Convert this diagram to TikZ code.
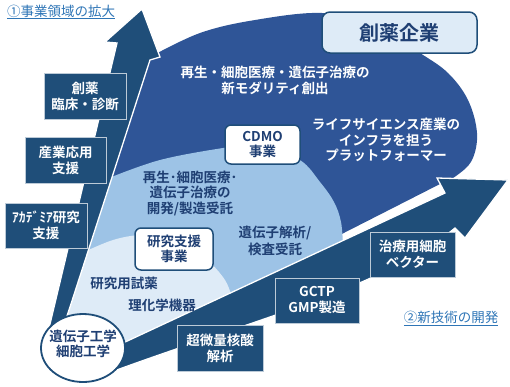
\documentclass[tikz,border=0pt]{standalone}
\usepackage{fontspec}
\usetikzlibrary{shapes.geometric}
\setmainfont{Noto Sans CJK JP}[BoldFont={Noto Sans CJK JP Bold}]
\definecolor{navy}{HTML}{1F4E79}
\definecolor{royal}{HTML}{2F5597}
\definecolor{midblue}{HTML}{9DC3E6}
\definecolor{paleblue}{HTML}{DEEBF7}
\definecolor{txtnavy}{HTML}{1F3F73}
\definecolor{linkblue}{HTML}{2E75B6}
\begin{document}
\begin{tikzpicture}[x=1pt,y=-1pt,
  sidebox/.style={fill=navy, draw=white!70!navy, line width=0.8pt, text=white,
    font=\bfseries\fontsize{13.5}{16}\selectfont, align=center, inner sep=0pt},
  roundbox/.style={fill=white, draw=navy, line width=1.5pt, rounded corners=6pt,
    text=txtnavy, font=\bfseries\fontsize{13.5}{15.5}\selectfont, align=center, inner sep=0pt},
  whitetxt/.style={text=white, font=\bfseries\fontsize{13.5}{16}\selectfont, align=center, inner sep=0pt},
  navytxt/.style={text=txtnavy, font=\bfseries\fontsize{13.5}{15.5}\selectfont, align=center, inner sep=0pt},
  linktxt/.style={text=linkblue, font=\fontsize{13.5}{16}\selectfont, inner sep=0pt},
  arrowband/.style={fill=navy, draw=white, line width=1.3pt, line join=miter}
]
\useasboundingbox (0,0) rectangle (510,386);

% nested regions
\fill[royal] (58,332) -- (146,58) -- plot[smooth,tension=0.6] coordinates
  {(150,57) (200,33) (255,20) (322,13) (375,25) (420,53) (448,73) (468,100) (477,133) (472,160) (456,176) (440,184)}
  -- (110,352) -- cycle;
\fill[midblue] (58,332) -- (109,178) -- plot[smooth,tension=0.6] coordinates
  {(109,178) (160,160) (223,148) (262,144) (300,160) (320,182) (334,202) (341,222) (343,246)}
  -- (110,352) -- cycle;
\fill[paleblue] (58,332) -- (84,252) -- plot[smooth,tension=0.6] coordinates
  {(84,252) (113,240) (140,235) (170,236) (195,246) (212,264) (225,280) (231,294) (233,302)}
  -- (110,352) -- cycle;

% arrows
\filldraw[arrowband] (95,378) .. controls (250,320) and (380,290) .. (455,228)
  -- (465,238) -- (508,180) -- (437,178) -- (445,193) -- (123,343) -- (100,354) -- cycle;
\filldraw[arrowband] (45,345) -- (117,43) -- (105,42) -- (142,9) -- (160,57)
  -- (150,60) -- (70,307) -- (60,337) -- cycle;

% origin ellipse
\node[ellipse, draw=navy, line width=1.8pt, fill=white, minimum width=84pt, minimum height=68pt,
  inner sep=0pt] (origin) at (83,348) {};
\node[navytxt, font=\bfseries\fontsize{13.5}{15}\selectfont] (origintxt) at (83,344) {遺伝子工学\\細胞工学};

% side boxes
\node[sidebox, minimum width=82pt, minimum height=46pt] (b1) at (85,96) {創薬\\臨床・診断};
\node[sidebox, minimum width=81pt, minimum height=46pt] (b2) at (65.5,160) {産業応用\\支援};
\node[sidebox, minimum width=82pt, minimum height=45pt] (b3) at (46,225.5) {ｱｶﾃﾞﾐｱ研究\\支援};
\node[sidebox, minimum width=86pt, minimum height=46pt] (b4) at (220,348) {超微量核酸\\解析};
\node[sidebox, minimum width=84pt, minimum height=45pt] (b5) at (317,300.5) {GCTP\\GMP製造};
\node[sidebox, minimum width=85pt, minimum height=45pt] (b6) at (412.5,254.5) {治療用細胞\\ベクター};

% rounded labels
\node[roundbox, fill=paleblue, rounded corners=8pt, minimum width=155pt, minimum height=41pt,
  font=\bfseries\fontsize{20}{22}\selectfont] (pharma) at (399.5,32.5) {創薬企業};
\node[roundbox, minimum width=75pt, minimum height=39pt] (cdmo) at (262.5,144.5) {CDMO\\事業};
\node[roundbox, minimum width=78pt, minimum height=42pt] (research) at (174,249) {研究支援\\事業};

% region texts
\node[whitetxt] (t1) at (275,80) {再生・細胞医療・遺伝子治療の\\新モダリティ創出};
\node[whitetxt, font=\bfseries\fontsize{13.5}{15.2}\selectfont] (t2) at (386,140) {ライフサイエンス産業の\\インフラを担う\\プラットフォーマー};
\node[navytxt] (t3) at (190,193) {再生･細胞医療･\\遺伝子治療の\\開発/製造受託};
\node[navytxt, font=\bfseries\fontsize{13.5}{16.5}\selectfont] (t4) at (275,241) {遺伝子解析/\\検査受託};
\node[navytxt] (t5) at (124,283) {研究用試薬};
\node[navytxt] (t6) at (162,305) {理化学機器};

% axis labels
\node[linktxt] (lab1) at (61,12) {\underline{①事業領域の拡大}};
\node[linktxt] (lab2) at (451,318) {\underline{②新技術の開発}};
\end{tikzpicture}
\end{document}
